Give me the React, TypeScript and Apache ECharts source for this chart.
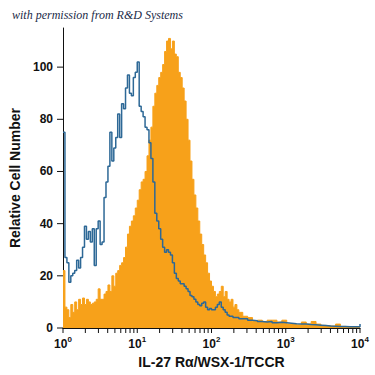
import { useEffect, useRef } from "react";
import * as echarts from "echarts";

// Fluorescence bin positions (IL-27 Rα intensity, log scale)
const binX = [
  1, 1.062, 1.129, 1.199, 1.274, 1.354, 1.438, 1.528, 1.624, 1.725,
  1.833, 1.947, 2.069, 2.198, 2.336, 2.482, 2.637, 2.801, 2.976, 3.162,
  3.36, 3.57, 3.793, 4.03, 4.281, 4.549, 4.833, 5.135, 5.456, 5.796,
  6.158, 6.543, 6.952, 7.386, 7.848, 8.338, 8.859, 9.412, 10, 10.62,
  11.29, 11.99, 12.74, 13.54, 14.38, 15.28, 16.24, 17.25, 18.33, 19.47,
  20.69, 21.98, 23.36, 24.82, 26.37, 28.01, 29.76, 31.62, 33.6, 35.7,
  37.93, 40.3, 42.81, 45.49, 48.33, 51.35, 54.56, 57.96, 61.58, 65.43,
  69.52, 73.86, 78.48, 83.38, 88.59, 94.12, 100, 106.2, 112.9, 119.9,
  127.4, 135.4, 143.8, 152.8, 162.4, 172.5, 183.3, 194.7, 206.9, 219.8,
  233.6, 248.2, 263.7,
  307, 357, 415, 483, 562, 654, 761, 886, 1031, 1199,
  1395, 1624, 1889, 2198, 2558, 2976, 3463, 4030, 4689, 5456,
  6348, 7386, 8594, 10000,
];

// Anti-IL-27 Rα stained cells (orange filled histogram)
const stainedCounts = [
  22, 8, 7, 4, 9, 6, 10, 7, 11, 9,
  11.5, 9, 11, 10, 9, 9.5, 10, 11, 15, 11,
  11, 13, 14, 16.5, 14, 20, 16, 21, 22, 24,
  25, 27, 31, 36, 39, 41, 43, 46, 49, 53,
  56, 57, 60, 66, 72, 77, 85, 90, 93, 96,
  98, 101, 106, 110, 111, 107, 110, 105, 104, 98,
  96, 92, 87, 80, 72, 64, 57, 51, 46, 41,
  36, 32, 28, 25, 21, 18, 16, 14, 12, 13,
  14, 16, 12, 14, 11, 10, 11, 8, 9, 7,
  6, 6, 4.5,
  4, 2.5, 3, 2.5, 3, 3, 2.3, 3, 1.5, 1.5,
  1.2, 2.3, 1.5, 2.5, 1.5, 1, 0.8, 0.7, 1.5, 0.6,
  0.5, 0.5, 0.4, 0.4,
];

// Isotype control (blue outline histogram)
const isotypeCounts = [
  75, 27, 25, 17.5, 20, 21, 22, 26, 23, 27,
  31, 39, 34, 37, 33, 38, 24, 38, 41, 32,
  33, 50, 56, 62, 75, 64, 69, 73, 82, 73,
  86, 84, 92, 97, 90, 89, 96, 98, 102, 85,
  83, 81, 77, 76, 71, 65, 56, 44, 41, 38,
  34, 31, 29, 30, 29, 28, 25, 21, 19, 18,
  17, 17, 16, 15, 14, 12.5, 12, 11, 10, 9,
  8.5, 9.5, 10, 8, 7, 7.5, 7, 7, 8, 9,
  10, 8, 7, 6, 5, 4.5, 4.5, 4, 4, 4,
  3.5, 3.5, 3.5,
  3, 2.8, 2.5, 2.3, 2.5, 2, 2.2, 2, 1.8, 1.6,
  1.5, 1.5, 1.3, 1.2, 1.1, 1, 0.8, 0.7, 0.6, 0.6,
  0.5, 0.5, 0.5, 1.5,
];

const xTickValues = [
  1, 2, 3, 4, 5, 6, 7, 8, 9,
  10, 20, 30, 40, 50, 60, 70, 80, 90,
  100, 200, 300, 400, 500, 600, 700, 800, 900,
  1000, 2000, 3000, 4000, 5000, 6000, 7000, 8000, 9000,
  10000,
];
const xLabelValues = [1, 10, 100, 1000, 10000];
const xLabelExponents = ["0", "1", "2", "3", "4"];
const yTickValues = [0, 20, 40, 60, 80, 100];

const TITLE = "with permission from R&D Systems";
const X_NAME = "IL-27 Rα/WSX-1/TCCR";
const Y_NAME = "Relative Cell Number";

const FONT = '"Liberation Sans Narrow", "Liberation Sans", Arial, sans-serif';
const ORANGE = "#f7a11a";
const BLUE = "#2d6896";
const AXIS = "#111111";

export default function App() {
  const ref = useRef<HTMLDivElement>(null);

  useEffect(() => {
    if (!ref.current) return;
    const chart = echarts.init(ref.current, undefined, { renderer: "svg" });

    const stained = binX.map((x, i) => [x, stainedCounts[i]]);
    const isotype = binX.map((x, i) => [x, isotypeCounts[i]]);
    const xTicks = xTickValues.map((v) => [v, 0]);
    const yTicks = yTickValues.map((v) => [1, v]);

    chart.setOption({
      animation: false,
      backgroundColor: "#ffffff",
      graphic: [
        {
          type: "text",
          left: 12,
          top: 9,
          style: {
            text: TITLE,
            font: 'italic 12px "Liberation Serif", "DejaVu Serif", serif',
            fill: "#1b2a48",
          },
        },
      ],
      grid: { left: 56, right: 15, top: 28, bottom: 47 },
      xAxis: {
        type: "log",
        logBase: 10,
        min: 1,
        max: 10000,
        name: X_NAME,
        nameLocation: "middle",
        nameGap: 25,
        nameTextStyle: {
          fontFamily: FONT,
          fontWeight: "bold",
          fontSize: 14,
          color: AXIS,
        },
        axisLine: { show: true, lineStyle: { color: AXIS, width: 1 } },
        axisTick: { show: false },
        minorTick: { show: false },
        splitLine: { show: false },
        axisLabel: {
          customValues: xLabelValues,
          margin: 7,
          formatter: (v: number) => {
            const idx = xLabelValues.indexOf(Math.round(v));
            const e = idx >= 0 ? xLabelExponents[idx] : "";
            return `{b|10}{s|${e}}`;
          },
          rich: {
            b: {
              fontFamily: FONT,
              fontWeight: "bold",
              fontSize: 12,
              color: AXIS,
              lineHeight: 18,
            },
            s: {
              fontFamily: FONT,
              fontWeight: "bold",
              fontSize: 8,
              color: AXIS,
              lineHeight: 9,
              verticalAlign: "top",
            },
          },
        },
      },
      yAxis: {
        type: "value",
        min: 0,
        max: 115,
        name: Y_NAME,
        nameLocation: "middle",
        nameGap: 41,
        nameRotate: 90,
        nameTextStyle: {
          fontFamily: FONT,
          fontWeight: "bold",
          fontSize: 14,
          color: AXIS,
        },
        axisLine: { show: true, lineStyle: { color: AXIS, width: 1 } },
        axisTick: { show: false },
        splitLine: { show: false },
        axisLabel: {
          customValues: yTickValues,
          margin: 10,
          fontFamily: FONT,
          fontWeight: "bold",
          fontSize: 12,
          color: AXIS,
        },
      },
      series: [
        {
          name: "Stained",
          type: "line",
          step: "end",
          data: stained,
          symbol: "none",
          showSymbol: false,
          lineStyle: { color: ORANGE, width: 1 },
          itemStyle: { color: ORANGE },
          areaStyle: { color: ORANGE, opacity: 1, origin: "start" },
          z: 2,
        },
        {
          name: "Isotype",
          type: "line",
          step: "end",
          data: isotype,
          symbol: "none",
          showSymbol: false,
          lineStyle: { color: BLUE, width: 1.5 },
          itemStyle: { color: BLUE },
          z: 3,
        },
        {
          name: "xTicks",
          type: "custom",
          coordinateSystem: "cartesian2d",
          data: xTicks,
          clip: false,
          silent: true,
          z: 5,
          renderItem: (_params: any, api: any) => {
            const p = api.coord([api.value(0), api.value(1)]);
            return {
              type: "line",
              shape: { x1: p[0], y1: p[1], x2: p[0], y2: p[1] + 5 },
              style: { stroke: AXIS, lineWidth: 1 },
            };
          },
        },
        {
          name: "yTicks",
          type: "custom",
          coordinateSystem: "cartesian2d",
          data: yTicks,
          clip: false,
          silent: true,
          z: 5,
          renderItem: (_params: any, api: any) => {
            const p = api.coord([api.value(0), api.value(1)]);
            return {
              type: "line",
              shape: { x1: p[0] - 6, y1: p[1], x2: p[0], y2: p[1] },
              style: { stroke: AXIS, lineWidth: 1 },
            };
          },
        },
      ],
    });

    return () => chart.dispose();
  }, []);

  return (
    <div
      ref={ref}
      style={{ position: "fixed", left: 0, top: 0, width: 375, height: 375 }}
    />
  );
}
